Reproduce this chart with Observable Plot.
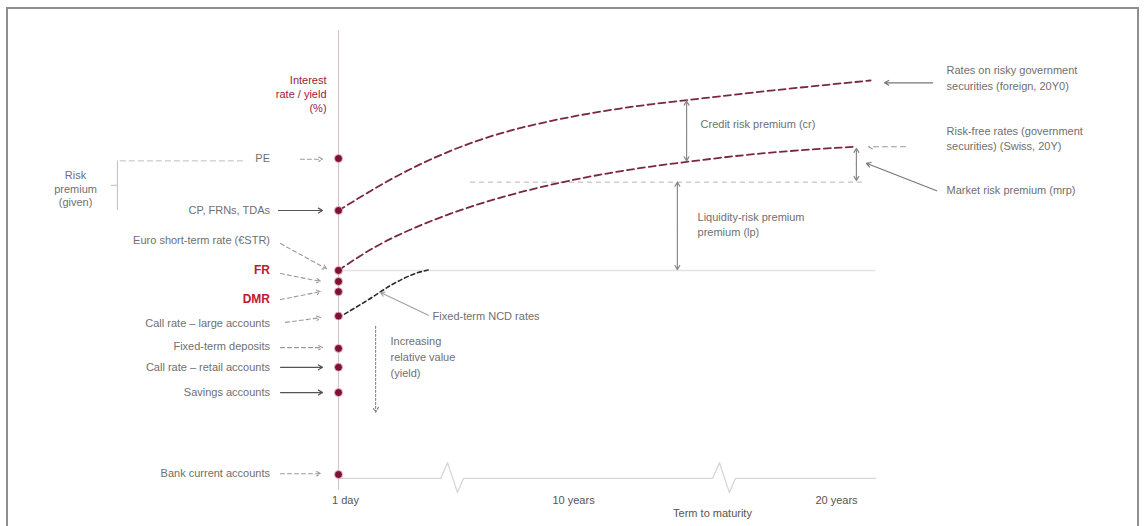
<!DOCTYPE html>
<html>
<head>
<meta charset="utf-8">
<script src="https://cdn.jsdelivr.net/npm/d3@7"></script>
<script src="https://cdn.jsdelivr.net/npm/@observablehq/plot@0.6"></script>
<style>
  html, body { margin: 0; padding: 0; background: #fff; }
  #wrap { position: relative; width: 1146px; height: 526px; overflow: hidden; }
  #frame { position: absolute; left: 6px; top: 7px; width: 1133px; height: 540px; border: 2px solid #8f8f8f; box-sizing: border-box; }
  #chart { position: absolute; left: 0; top: 0; }
  svg text { font-family: "Liberation Sans", Arial, sans-serif; }
</style>
</head>
<body>
<div id="wrap"><div id="frame"></div><div id="chart"></div></div>
<script>
// ---- Schematic data (x = position on maturity axis, y = rate in %) ----
const dotLabels = ["PE", "CP, FRNs, TDAs", "Euro short-term rate (€STR)", "FR", "DMR",
  "Call rate – large accounts", "Fixed-term deposits", "Call rate – retail accounts",
  "Savings accounts", "Bank current accounts"];
const dotRates   = [4.01, 3.35, 2.59, 2.45, 2.32, 2.01, 1.60, 1.36, 1.04, 0];
const labelRates = [4.01, 3.35, 2.97, 2.59, 2.22, 1.92, 1.62, 1.36, 1.04, 0.01];
const policyLabels = ["FR", "DMR"];

// left pointer arrows: start (x,y) -> end (x,y)
const ptrX1 = [-1.53, -2.41, -2.33, -2.33, -2.33, -2.13, -2.33, -2.33, -2.33, -2.33];
const ptrY1 = [4.00, 3.35, 2.93, 2.55, 2.22, 1.93, 1.61, 1.36, 1.04, 0.01];
const ptrX2 = [-0.64, -0.64, -0.48, -0.72, -0.72, -0.72, -0.64, -0.64, -0.64, -0.72];
const ptrY2 = [4.00, 3.35, 2.61, 2.45, 2.32, 1.99, 1.61, 1.36, 1.04, 0.01];
const ptrDashed = [true, false, true, true, true, true, true, false, false, true];

// yield curves
const riskyT = [0, 1.29, 2.49, 4.50, 6.51, 8.51, 10.52, 12.53, 14.54, 17.23, 21.37];
const riskyR = [3.35, 3.60, 3.82, 4.12, 4.34, 4.49, 4.61, 4.70, 4.77, 4.87, 5.00];
const riskFreeT = [0, 1.16, 2.49, 4.50, 6.51, 8.51, 10.52, 12.53, 14.54, 17.23, 20.76];
const riskFreeR = [2.59, 2.84, 3.06, 3.32, 3.52, 3.68, 3.81, 3.91, 3.99, 4.09, 4.16];
const ncdT = [0, 1.16, 2.21, 3.17, 3.69];
const ncdR = [1.99, 2.21, 2.42, 2.56, 2.60];

// x axis with breaks
const axisT = [0, 4.10, 4.38, 4.78, 5.02, 15.02, 15.30, 15.70, 15.94, 21.57];
const axisR = [-0.05, -0.05, 0.15, -0.23, -0.05, -0.05, 0.15, -0.23, -0.05, -0.05];
const tickLabels = ["1 day", "10 years", "20 years", "Term to maturity"];
const tickT = [0.28, 9.44, 20.0, 15.02];
const tickR = [-0.33, -0.33, -0.33, -0.49];

// y title
const yTitle = ["Interest", "rate / yield", "(%)"];
const yTitleR = [5.0, 4.82, 4.64];

// premium spans (vertical double arrows): x, low, high
const spanNames = ["Credit risk premium (cr)", "Liquidity-risk premium (lp)", "Market risk premium (mrp)"];
const spanT  = [13.98, 13.61, 20.80];
const spanLo = [3.98, 2.60, 3.73];
const spanHi = [4.74, 3.71, 4.14];

// right labels
const rightLabels = ["Rates on risky government", "securities (foreign, 20Y0)",
  "Risk-free rates (government", "securities) (Swiss, 20Y)", "Market risk premium (mrp)"];
const rightR = [5.13, 4.92, 4.35, 4.16, 3.60];
const rArrowX1 = [23.86, 22.77, 24.02];
const rArrowY1 = [4.97, 4.16, 3.60];
const rArrowX2 = [21.93, 21.29, 21.20];
const rArrowY2 = [4.97, 4.16, 3.95];
const rArrowDash = [false, true, false];

// inner annotations
const noteTexts = ["Credit risk premium (cr)", "Liquidity-risk premium", "premium (lp)",
  "Fixed-term NCD rates", "Increasing", "relative value", "(yield)"];
const noteT = [14.54, 14.42, 14.42, 3.78, 2.09, 2.09, 2.09];
const noteR = [4.44, 3.26, 3.07, 2.01, 1.69, 1.48, 1.28];

const bracketText = ["Risk", "premium", "(given)"];
const bracketR = [3.79, 3.62, 3.45];

// ---- Build tables ----
const dots = dotRates.map((r, i) => ({t: 0, r, label: dotLabels[i]}));
const dotLab = dotLabels.map((label, i) => ({t: -2.75, r: labelRates[i], label, policy: policyLabels.includes(label)}));
const ptrs = ptrX1.map((x1, i) => ({x1, y1: ptrY1[i], x2: ptrX2[i], y2: ptrY2[i], dashed: ptrDashed[i]}));
const toPts = (T, R) => T.map((t, i) => ({t, r: R[i]}));
const spansUp = spanT.map((t, i) => ({t, mid: (spanLo[i] + spanHi[i]) / 2, end: spanHi[i]}));
const spansDn = spanT.map((t, i) => ({t, mid: (spanLo[i] + spanHi[i]) / 2, end: spanLo[i]}));
const rArrows = rArrowX1.map((x1, i) => ({x1, y1: rArrowY1[i], x2: rArrowX2[i], y2: rArrowY2[i], dashed: rArrowDash[i]}));

const grey = "#6f6f6f";
const curveCol = "#7a2742";

const chart = Plot.plot({
  width: 1146,
  height: 526,
  margin: 0,
  x: {domain: [-13.574, 32.45], axis: null},
  y: {domain: [-0.66, 6.015], axis: null},
  marks: [
    Plot.ruleX([0], {y1: -0.20, y2: 5.63, stroke: "#d9c4ca", strokeWidth: 1.2}),
    Plot.ruleY([2.59], {x1: 0, x2: 21.57, stroke: "#e2e2e2", strokeWidth: 1.5}),
    Plot.ruleY([3.71], {x1: 5.30, x2: 21.04, stroke: "#b5b5b5", strokeDasharray: "5,4"}),
    Plot.line(toPts(axisT, axisR), {x: "t", y: "r", stroke: "#d6d6d6", strokeWidth: 1.3}),
    Plot.line(toPts(riskyT, riskyR), {x: "t", y: "r", curve: "basis", stroke: curveCol, strokeWidth: 1.8, strokeDasharray: "7,4"}),
    Plot.line(toPts(riskFreeT, riskFreeR), {x: "t", y: "r", curve: "basis", stroke: curveCol, strokeWidth: 1.8, strokeDasharray: "7,4"}),
    Plot.line(toPts(ncdT, ncdR), {x: "t", y: "r", curve: "monotone-x", stroke: "#2b2b2b", strokeWidth: 1.6, strokeDasharray: "4,3"}),
    Plot.ruleY([3.98], {x1: -8.76, x2: -3.73, stroke: "#bdbdbd", strokeDasharray: "6,3"}),
    Plot.ruleX([-8.88], {y1: 3.35, y2: 3.98, stroke: "#bdbdbd"}),
    Plot.ruleY([3.67], {x1: -9.12, x2: -8.88, stroke: "#bdbdbd"}),
    Plot.text(bracketText.map((s, i) => ({s, r: bracketR[i]})), {x: -10.56, y: "r", text: "s", fill: grey, fontSize: 11, textAnchor: "middle"}),
    Plot.arrow(ptrs.filter(d => !d.dashed), {x1: "x1", y1: "y1", x2: "x2", y2: "y2", stroke: "#555", strokeWidth: 1.2, headLength: 6}),
    Plot.arrow(ptrs.filter(d => d.dashed), {x1: "x1", y1: "y1", x2: "x2", y2: "y2", stroke: "#9a9a9a", strokeWidth: 1.1, headLength: 6, strokeDasharray: "4,3"}),
    Plot.text(dotLab.filter(d => !d.policy), {x: "t", y: "r", text: "label", textAnchor: "end", fill: grey, fontSize: 11}),
    Plot.text(dotLab.filter(d => d.policy), {x: "t", y: "r", text: "label", textAnchor: "end", fill: "#c0182f", fontSize: 12, fontWeight: "bold"}),
    Plot.dot(dots, {x: "t", y: "r", r: 4, fill: "#7e1232", stroke: "#f3c6d2", strokeWidth: 0.8}),
    Plot.text(yTitle.map((s, i) => ({s, r: yTitleR[i]})), {x: -0.48, y: "r", text: "s", textAnchor: "end", fill: "#9b1b35", fontSize: 11}),
    Plot.arrow(spansUp, {x1: "t", y1: "mid", x2: "t", y2: "end", stroke: "#8a8a8a", strokeWidth: 1.2, headLength: 6}),
    Plot.arrow(spansDn, {x1: "t", y1: "mid", x2: "t", y2: "end", stroke: "#8a8a8a", strokeWidth: 1.2, headLength: 6}),
    Plot.arrow([{x1: 1.49, y1: 1.88, x2: 1.49, y2: 0.79}], {x1: "x1", y1: "y1", x2: "x2", y2: "y2", stroke: "#8a8a8a", strokeWidth: 1.2, headLength: 7, strokeDasharray: "2,2"}),
    Plot.arrow([{x1: 3.61, y1: 2.02, x2: 1.69, y2: 2.31}], {x1: "x1", y1: "y1", x2: "x2", y2: "y2", stroke: "#a0a0a0", strokeWidth: 1.1, headLength: 6}),
    Plot.arrow(rArrows.filter(d => !d.dashed), {x1: "x1", y1: "y1", x2: "x2", y2: "y2", stroke: "#777", strokeWidth: 1.2, headLength: 6}),
    Plot.arrow(rArrows.filter(d => d.dashed), {x1: "x1", y1: "y1", x2: "x2", y2: "y2", stroke: "#999", strokeWidth: 1.1, headLength: 6, strokeDasharray: "5,4"}),
    Plot.text(rightLabels.map((s, i) => ({s, r: rightR[i]})), {x: 24.42, y: "r", text: "s", textAnchor: "start", fill: grey, fontSize: 11}),
    Plot.text(noteTexts.map((s, i) => ({s, t: noteT[i], r: noteR[i]})), {x: "t", y: "r", text: "s", textAnchor: "start", fill: grey, fontSize: 11}),
    Plot.text(tickLabels.map((s, i) => ({s, t: tickT[i], r: tickR[i]})), {x: "t", y: "r", text: "s", textAnchor: "middle", fill: "#555", fontSize: 11})
  ]
});
document.getElementById("chart").appendChild(chart);
</script>
</body>
</html>
